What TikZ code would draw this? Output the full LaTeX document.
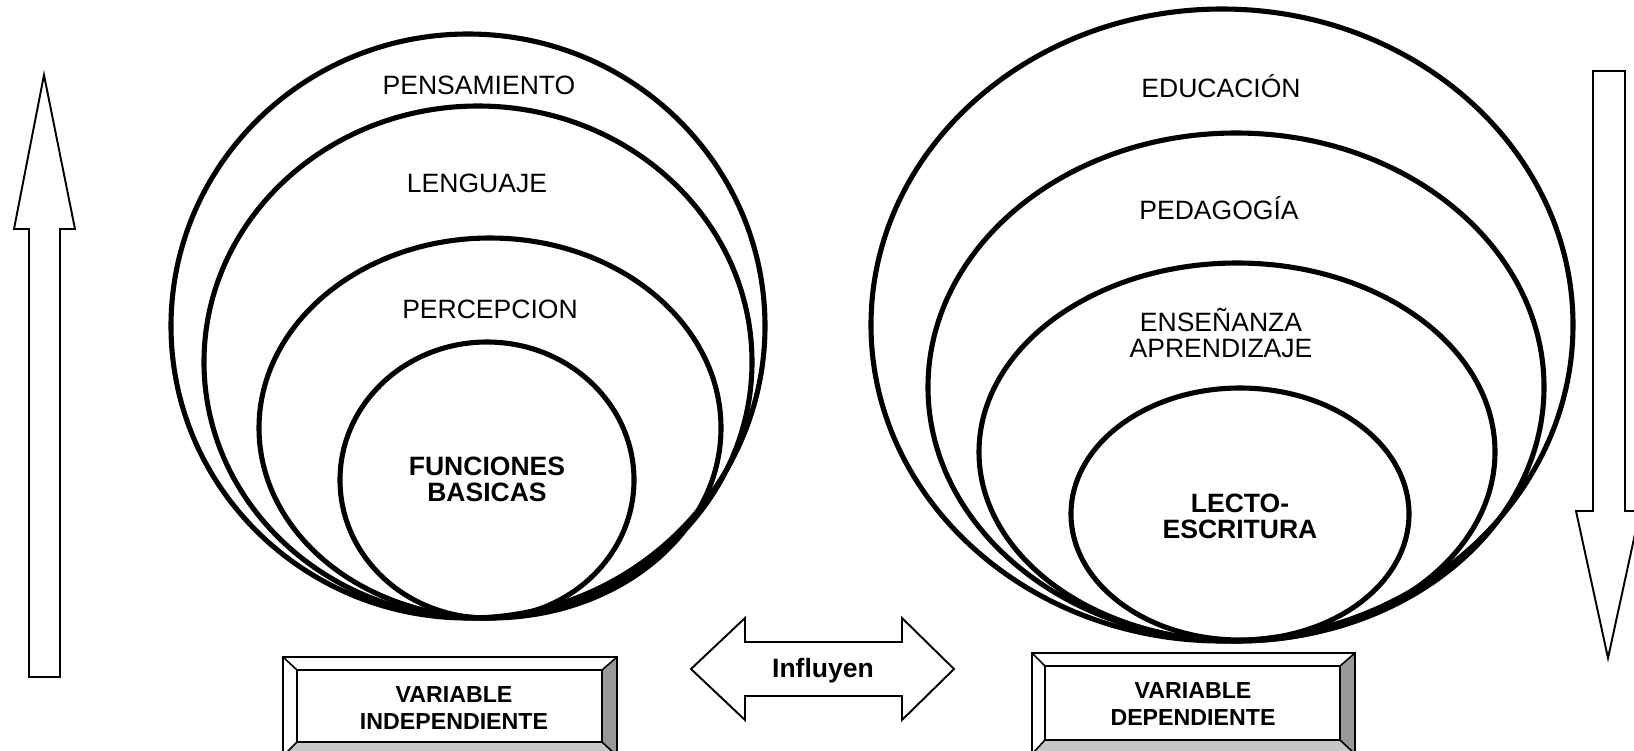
\documentclass[tikz,border=0pt]{standalone}
\usepackage{fontspec}
\setmainfont{Liberation Sans}
\usetikzlibrary{shapes, positioning}

\begin{document}
\begin{tikzpicture}[x=0.02cm, y=-0.02cm, line join=miter,
 ring/.style={ellipse, draw, line width=2.9pt, inner sep=0pt, outer sep=0pt},
 lbl/.style={font=\fontsize{15.1pt}{14.8pt}\selectfont, align=center},
 one/.style={text height=10.8pt, text depth=0pt},
 boxtxt/.style={font=\bfseries\fontsize{13.2pt}{15.4pt}\selectfont, align=center},
 blockarrow/.style={draw, line width=1.1pt, fill=white}]
 \useasboundingbox (0,0) rectangle (1634,751);
 \fill[white] (0,0) rectangle (1634,751);

 % anillos (izquierda y derecha)
 \foreach \n/\x/\y/\rx/\ry in {pen/468/326/297/292, len/478/362/274/256,
     per/490/428/231/190, fun/487/480/147/138,
     edu/1222/325/351/316, ped/1236/387/308/254,
     ens/1237/452/258/189, lec/1240/514/169/126}{
   \node[ring, minimum width={2*\rx*0.02cm}, minimum height={2*\ry*0.02cm}] (\n) at (\x,\y) {};}

 \node[lbl, one] (tpen) at (479,85) {PENSAMIENTO};
 \node[lbl, one] (tlen) at (477,183) {LENGUAJE};
 \node[lbl, one] (tper) at (490,309) {PERCEPCION};
 \node[lbl, font=\bfseries\fontsize{15.1pt}{14.8pt}\selectfont] (tfun) at (487,479) {FUNCIONES\\BASICAS};
 \node[lbl, one] (tedu) at (1221,88) {EDUCACIÓN};
 \node[lbl, one] (tped) at (1219,210) {PEDAGOGÍA};
 \node[lbl] (tens) at (1221,333) {ENSEÑANZA\\APRENDIZAJE};
 \node[lbl, font=\bfseries\fontsize{15.1pt}{14.8pt}\selectfont] (tlec) at (1240,516) {LECTO-\\ESCRITURA};

 % flechas
 \draw[blockarrow] (29,677) -- (29,229) -- (14,229) -- (44,75) -- (75,229)
   -- (60,229) -- (60,677) -- cycle;
 \draw[blockarrow] (1593,71) -- (1625,71) -- (1625,511) -- (1640,511)
   -- (1608,658) -- (1576,511) -- (1593,511) -- cycle;
 \draw[blockarrow] (691,669) -- (745,618) -- (745,642) -- (902,642) -- (902,618)
   -- (954,669) -- (902,720) -- (902,696) -- (745,696) -- (745,720) -- cycle;
 \node[lbl, one, font=\bfseries\fontsize{15.1pt}{14.8pt}\selectfont] (inf) at (823,668) {Influyen};

 % cajas biseladas
 \foreach \xa/\ya/\xb/\yb/\xc/\yc/\xd/\yd in {283/657/297/670/602/742/617/756,
     1032/653/1045/666/1340/740/1355/754}{
   \fill[black!22] (\xa,\yd) -- (\xb,\yc) -- (\xc,\yc) -- (\xd,\yd) -- cycle;
   \fill[black!40] (\xd,\ya) -- (\xc,\yb) -- (\xc,\yc) -- (\xd,\yd) -- cycle;
   \draw[line width=1.1pt] (\xa,\ya) rectangle (\xd,\yd);
   \draw[line width=1.1pt] (\xb,\yb) rectangle (\xc,\yc);
   \draw[line width=0.9pt] (\xa,\ya) -- (\xb,\yb) (\xd,\ya) -- (\xc,\yb)
     (\xa,\yd) -- (\xb,\yc) (\xd,\yd) -- (\xc,\yc);}

 \node[boxtxt] (vi) at (454,708) {VARIABLE\\INDEPENDIENTE};
 \node[boxtxt] (vd) at (1193,704) {VARIABLE\\DEPENDIENTE};
\end{tikzpicture}
\end{document}
